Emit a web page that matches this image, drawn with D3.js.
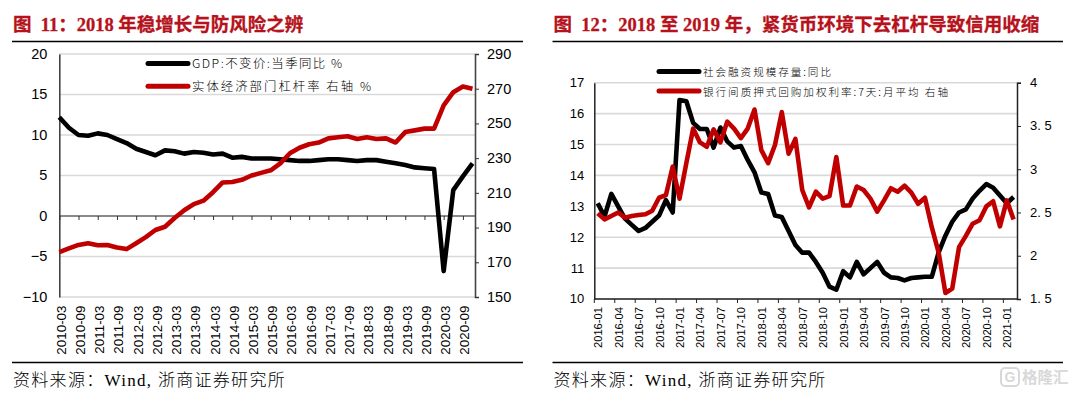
<!DOCTYPE html>
<html>
<head>
<meta charset="utf-8">
<script src="https://cdnjs.cloudflare.com/ajax/libs/d3/7.8.5/d3.min.js"></script>
<style>
  body { margin: 0; background: #fff; }
  svg { display: block; }
  text { fill: #000; }
  .tick-num { font-family: "Liberation Sans", Arial, sans-serif; }
  .cn { font-family: "Noto Sans CJK SC", sans-serif; font-weight: 300; }
</style>
</head>
<body>
<script>
// left chart: quarterly
const quarters = [];
for (let y = 2010; y <= 2020; y++) ["03", "06", "09", "12"].forEach(m => quarters.push(y + "-" + m));
const gdp = [12.2, 10.9, 10.0, 9.9, 10.2, 10.0, 9.5, 9.0, 8.3, 7.9, 7.5, 8.1,
  8.0, 7.7, 7.9, 7.8, 7.6, 7.7, 7.2, 7.3, 7.1, 7.1, 7.1, 7.0,
  6.9, 6.8, 6.8, 6.9, 7.0, 7.0, 6.9, 6.8, 6.9, 6.9, 6.7, 6.5,
  6.3, 6.0, 5.9, 5.8, -6.8, 3.2, 4.9, 6.5];
const leverage = [175.9, 178, 180, 181, 179.8, 180, 178.5, 177.6, 181, 184.5, 188.6, 190.5,
  195.5, 200, 203.5, 205.5, 210.4, 216, 216.3, 217.5, 220, 221.5, 223, 227,
  232.8, 236, 238, 239, 241.4, 242, 242.6, 241, 242, 241, 241.4, 239,
  245, 246, 247, 247, 260.4, 268, 271.3, 270];
const leftTicks = [-10, -5, 0, 5, 10, 15, 20];
const leftTicksR = [150, 170, 190, 210, 230, 250, 270, 290];

// right chart: monthly
const months = [];
for (let y = 2016; y <= 2021; y++) {
  for (let m = 1; m <= 12; m++) {
    if (y == 2021 && m > 2) break;
    months.push(y + "-" + String(m).padStart(2, "0"));
  }
}
const tsf = [13.1, 12.67, 13.4, 13.0, 12.6, 12.4, 12.2, 12.3, 12.5, 12.7, 13.2, 12.8,
  16.44, 16.4, 15.7, 15.5, 15.5, 14.9, 15.55, 15.1, 14.9, 14.95, 14.5, 14.1,
  13.45, 13.4, 12.7, 12.65, 12.2, 11.75, 11.5, 11.5, 11.2, 10.85, 10.4, 10.3,
  10.9, 10.7, 11.2, 10.8, 11.0, 11.2, 10.85, 10.7, 10.68, 10.6, 10.68, 10.7,
  10.72, 10.72, 11.5, 12.05, 12.5, 12.8, 12.9, 13.25, 13.5, 13.72, 13.6, 13.35, 13.1, 13.3];
const repo = [2.49, 2.42, 2.46, 2.5, 2.44, 2.46, 2.47, 2.48, 2.52, 2.67, 2.7, 3.03,
  2.66, 3.07, 3.47, 3.31, 3.26, 3.46, 3.31, 3.55, 3.47, 3.36, 3.47, 3.69,
  3.22, 3.07, 3.28, 3.66, 3.18, 3.35, 2.76, 2.56, 2.74, 2.66, 2.69, 3.14,
  2.58, 2.58, 2.8, 2.76, 2.66, 2.51, 2.64, 2.78, 2.74, 2.81, 2.73, 2.6,
  2.67, 2.33, 2.04, 1.57, 1.62, 2.1, 2.23, 2.37, 2.41, 2.57, 2.63, 2.34, 2.64, 2.42];
const rightTicks = [10, 11, 12, 13, 14, 15, 16, 17];
const rightTicksR = [1.5, 2, 2.5, 3, 3.5, 4];
const rightLabelsR = ["1. 5", "2", "2. 5", "3", "3. 5", "4"];

const RED = "#c00000", TITLE_RED = "#b5121b";

const svg = d3.select("body").append("svg").attr("width", 1075).attr("height", 394);

function frame(x1, x2, title) {
  svg.append("text").attr("x", x1 + 1).attr("y", 31)
    .attr("font-family", '"Liberation Serif", "Noto Sans CJK SC", serif')
    .attr("font-weight", 700).attr("font-size", 18.5)
    .attr("stroke", TITLE_RED).attr("stroke-width", 0.3)
    .style("fill", TITLE_RED).text(title);
  [41.5, 362.5].forEach(y => {
    svg.append("line").attr("x1", x1).attr("x2", x2).attr("y1", y).attr("y2", y)
      .attr("stroke", "#000").attr("stroke-width", 1.3);
  });
  svg.append("text").attr("x", x1 + 1).attr("y", 386)
    .attr("font-family", '"Liberation Serif", "Noto Sans CJK SC", serif')
    .attr("font-size", 17).attr("letter-spacing", 1.3).attr("font-weight", 300)
    .text("资料来源：Wind, 浙商证券研究所");
}

function legendRow(x1, x2, y, color, label, size, width) {
  svg.append("line").attr("x1", x1).attr("x2", x2).attr("y1", y).attr("y2", y)
    .attr("stroke", color).attr("stroke-width", 5).attr("stroke-linecap", "round");
  svg.append("text").attr("class", "cn").attr("x", x2 + 4).attr("y", y + 4.5)
    .attr("font-size", size).attr("textLength", width).attr("lengthAdjust", "spacing").text(label);
}

function drawLine(cats, vals, x, y, color) {
  const line = d3.line().x((d, i) => x(cats[i])).y(d => y(d));
  svg.append("path").datum(vals).attr("d", line)
    .attr("fill", "none").attr("stroke", color).attr("stroke-width", 4.6)
    .attr("stroke-linejoin", "round");
}

// ---- left chart
frame(12, 523, "图\u00A0\u00A011：2018 年稳增长与防风险之辨");

const xL = d3.scalePoint().domain(quarters).range([59.3, 472.5]);
const yL = d3.scaleLinear().domain([-10, 20]).range([297, 54]);
const yLR = d3.scaleLinear().domain([150, 290]).range([297, 54]);

svg.append("g").selectAll("line").data(leftTicks).join("line")
  .attr("x1", 59).attr("x2", 475).attr("y1", d => yL(d)).attr("y2", d => yL(d))
  .attr("stroke", "#d9d9d9").attr("stroke-width", 1.6);

const axL = svg.append("g").attr("transform", "translate(59.3,0)")
  .call(d3.axisLeft(yL).tickValues(leftTicks).tickSize(0).tickPadding(12));
axL.select(".domain").attr("stroke", "#444").attr("stroke-width", 1.6);
axL.selectAll("text").attr("class", "tick-num").attr("font-size", 14.5).attr("dy", "0.3em");

const xTicksL = quarters.filter((d, i) => i % 2 == 0);
const axZero = svg.append("g").attr("transform", "translate(0," + yL(0) + ")")
  .call(d3.axisBottom(xL).tickValues(xTicksL).tickSize(4).tickFormat(""));
axZero.select(".domain").attr("stroke", "#333").attr("stroke-width", 1.2).attr("d", "M59.3,0H475");
axZero.selectAll("line").attr("stroke", "#333");

// date labels sit under the plot, not on the zero line
svg.append("g").selectAll("text").data(xTicksL).join("text")
  .attr("class", "tick-num").attr("font-size", 13.4).attr("text-anchor", "end")
  .attr("transform", d => "translate(" + (xL(d) + 6.5) + ",305.5) rotate(-90)")
  .text(d => d);

const axLR = svg.append("g").attr("transform", "translate(475,0)")
  .call(d3.axisRight(yLR).tickValues(leftTicksR).tickSize(4).tickSizeOuter(4).tickPadding(8));
axLR.select(".domain").attr("stroke", "#444").attr("stroke-width", 1.6);
axLR.selectAll("line").attr("stroke", "#333");
axLR.selectAll("text").attr("class", "tick-num").attr("font-size", 14.5).attr("dy", "0.3em");

drawLine(quarters, gdp, xL, yL, "#000");
drawLine(quarters, leverage, xL, yLR, RED);

legendRow(148, 188, 63.5, "#000", "GDP:不变价:当季同比 %", 12.4, 150);
legendRow(148, 188, 86.3, RED, "实体经济部门杠杆率 右轴 %", 12.4, 179);

// ---- right chart
frame(552.5, 1063, "图\u00A0\u00A012：2018 至 2019 年，紧货币环境下去杠杆导致信用收缩");

const xR = d3.scaleBand().domain(months).range([594.3, 1017]).padding(0);
const yR = d3.scaleLinear().domain([10, 17]).range([299, 82.7]);
const yRR = d3.scaleLinear().domain([1.5, 4]).range([299, 82.7]);

svg.append("g").selectAll("line").data(rightTicks).join("line")
  .attr("x1", 594).attr("x2", 1017).attr("y1", d => yR(d)).attr("y2", d => yR(d))
  .attr("stroke", "#d9d9d9").attr("stroke-width", 1.6);

const axR = svg.append("g").attr("transform", "translate(594.3,0)")
  .call(d3.axisLeft(yR).tickValues(rightTicks).tickSize(0).tickPadding(10).tickFormat(d3.format("d")));
axR.select(".domain").attr("stroke", "#222").attr("stroke-width", 1.5);
axR.selectAll("text").attr("class", "tick-num").attr("font-size", 13).attr("dy", "0.3em");

const xTicksR = months.filter((d, i) => i % 3 == 0);
const bw = xR.bandwidth();
const axB = svg.append("g").attr("transform", "translate(0,299)")
  .call(d3.axisBottom(xR).tickValues(xTicksR).tickSize(4).tickFormat(""));
axB.select(".domain").attr("stroke", "#222").attr("stroke-width", 1.3).attr("d", "M594.3,0H1017");
axB.selectAll("line").attr("x1", -bw / 2).attr("x2", -bw / 2).attr("stroke", "#222");

svg.append("g").selectAll("text").data(xTicksR).join("text")
  .attr("class", "tick-num").attr("font-size", 11.2).attr("text-anchor", "end")
  .attr("transform", d => "translate(" + (xR(d) + bw / 2 + 4.5) + ",307) rotate(-90)")
  .text(d => d);

const axRR = svg.append("g").attr("transform", "translate(1017,0)")
  .call(d3.axisRight(yRR).tickValues(rightTicksR).tickSize(4).tickPadding(9)
    .tickFormat((d, i) => rightLabelsR[i]));
axRR.select(".domain").attr("stroke", "#222").attr("stroke-width", 1.5);
axRR.selectAll("line").attr("stroke", "#222");
axRR.selectAll("text").attr("class", "tick-num").attr("font-size", 13).attr("dy", "0.3em");

const xRc = d => xR(d) + bw / 2;
drawLine(months, tsf, xRc, yR, "#000");
drawLine(months, repo, xRc, yRR, RED);

legendRow(659, 699, 71.5, "#000", "社会融资规模存量:同比", 10.6, 128);
legendRow(659, 699, 91, RED, "银行间质押式回购加权利率:7天:月平均 右轴", 10.6, 245);

// ---- watermark
svg.append("rect").attr("x", 1001).attr("y", 368).attr("width", 18).attr("height", 18).attr("rx", 4)
  .attr("fill", "none").attr("stroke", "#d8d8d8").attr("stroke-width", 2);
svg.append("text").attr("x", 1010).attr("y", 382).attr("text-anchor", "middle")
  .attr("font-family", '"Liberation Sans", sans-serif').attr("font-weight", 700).attr("font-size", 14)
  .style("fill", "#d8d8d8").text("G");
svg.append("text").attr("x", 1022).attr("y", 383)
  .attr("font-family", '"Noto Sans CJK SC", sans-serif').attr("font-weight", 700).attr("font-size", 15.5)
  .style("fill", "#d8d8d8").text("格隆汇");
</script>
</body>
</html>
